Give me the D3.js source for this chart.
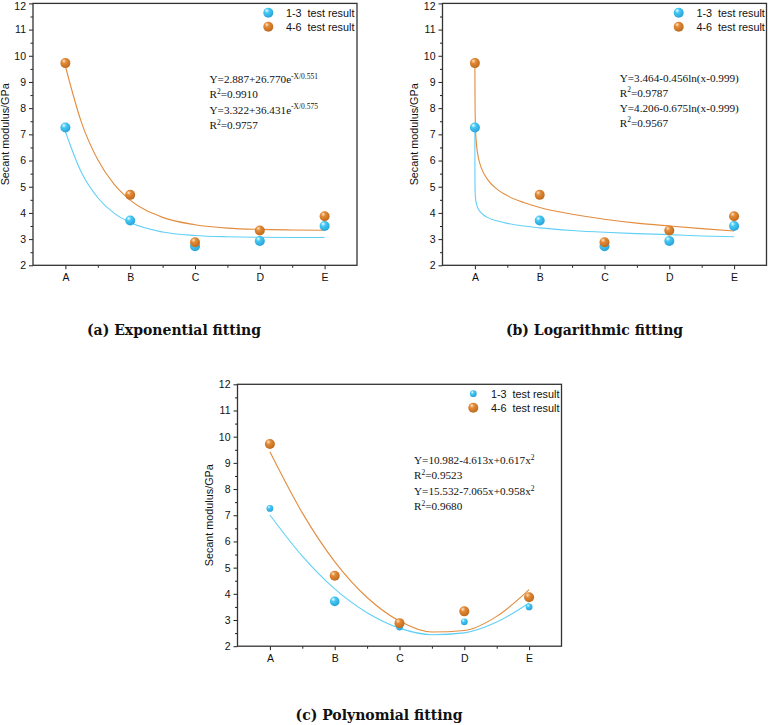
<!DOCTYPE html>
<html><head><meta charset="utf-8">
<script src="https://cdn.jsdelivr.net/npm/d3@7"></script>
<style>
body{margin:0;background:#fff;}
svg{display:block;}
</style></head><body>
<svg id="chart" width="768" height="725"></svg>
<script>
// ---------- data ----------
const categories = ["A","B","C","D","E"];
const categoryPos = [1,2,3,4,5];
const yTickValues = [2,3,4,5,6,7,8,9,10,11,12];
const yMinorValues = [2.5,3.5,4.5,5.5,6.5,7.5,8.5,9.5,10.5,11.5];
const xMinorValues = [1.5,2.5,3.5,4.5];
const seriesNames = ["1-3  test result","4-6  test result"];
const result13 = [7.26, 3.71, 2.73, 2.93, 3.50];
const result46 = [9.72, 4.69, 2.88, 3.33, 3.87];

// fitted curves
const expX = [1,1.25,1.5,1.75,2,2.5,3,3.5,4,4.5,5];
const expFit13 = [7.10,5.53,4.58,3.99,3.63,3.27,3.14,3.09,3.07,3.06,3.06];
const expFit46 = [9.60,7.44,6.03,5.10,4.49,3.83,3.55,3.42,3.37,3.35,3.34];
const logX13 = [1,1.0001,1.001,1.005,1.01,1.03,1.06,1.1,1.2,1.35,1.5,1.75,2,2.5,3,3.5,4,4.5,5];
const logFit13 = [7.25,5.68,5.12,4.73,4.56,4.29,4.12,3.99,3.82,3.69,3.60,3.50,3.43,3.33,3.26,3.21,3.17,3.12,3.09];
const logX46 = [1,1.0005,1.002,1.005,1.01,1.02,1.04,1.06,1.1,1.2,1.35,1.5,1.75,2,2.5,3,3.5,4,4.5,5];
const logFit46 = [9.72,9.15,8.25,7.65,7.2,6.75,6.30,6.04,5.71,5.26,4.89,4.66,4.40,4.21,3.95,3.76,3.61,3.50,3.40,3.31];
const polyX = [1,1.5,2,2.5,3,3.5,4,4.5,5];
const polyFit13 = [7.01,5.44,4.19,3.28,2.69,2.44,2.51,2.92,3.65];
const polyFit46 = [9.42,7.09,5.23,3.86,2.96,2.54,2.60,3.14,4.16];

const expEquations = ["Y=2.887+26.770e^{-X/0.551}","R^{2}=0.9910","Y=3.322+36.431e^{-X/0.575}","R^{2}=0.9757"];
const logEquations = ["Y=3.464-0.456ln(x-0.999)","R^{2}=0.9787","Y=4.206-0.675ln(x-0.999)","R^{2}=0.9567"];
const polyEquations = ["Y=10.982-4.613x+0.617x^{2}","R^{2}=0.9523","Y=15.532-7.065x+0.958x^{2}","R^{2}=0.9680"];
const captions = ["(a) Exponential fitting","(b) Logarithmic fitting","(c) Polynomial fitting"];
const yTitle = "Secant modulus/GPa";

// ---------- styles ----------
const BLUE_LINE = "#62d0f6", ORANGE_LINE = "#e28c3e";
const SANS = "'Liberation Sans', Arial, sans-serif";
const SERIF = "'Liberation Serif', 'Times New Roman', serif";

const svg = d3.select("#chart");
const defs = svg.append("defs");
function sphereGrad(id, hi, base, dark){
  const g = defs.append("radialGradient").attr("id", id)
    .attr("cx","40%").attr("cy","34%").attr("r","66%").attr("fx","34%").attr("fy","28%");
  g.append("stop").attr("offset","0%").attr("stop-color",hi);
  g.append("stop").attr("offset","35%").attr("stop-color",base);
  g.append("stop").attr("offset","100%").attr("stop-color",dark);
}
sphereGrad("gBlue","#f4fdff","#45c9f5","#2aa2d8");
sphereGrad("gOrange","#fde6cc","#e38a35","#bd6a1f");

function drawPanel(cfg){
  const x = d3.scaleLinear().domain([0.5,5.5]).range([cfg.x0,cfg.x1]);
  const y = d3.scaleLinear().domain([2,12]).range([cfg.yBot,cfg.yTop]);
  const g = svg.append("g");

  // axes
  const ax = g.append("g").attr("transform",`translate(${cfg.x0},0)`)
    .call(d3.axisLeft(y).tickValues(yTickValues).tickSize(4).tickPadding(3).tickFormat(d3.format("d")));
  const axm = g.append("g").attr("transform",`translate(${cfg.x0},0)`)
    .call(d3.axisLeft(y).tickValues(yMinorValues).tickSize(2.5).tickFormat(""));
  const bx = g.append("g").attr("transform",`translate(0,${cfg.yBot})`)
    .call(d3.axisBottom(x).tickValues(categoryPos).tickSize(4).tickPadding(4).tickFormat((d,i)=>categories[i]));
  const bxm = g.append("g").attr("transform",`translate(0,${cfg.yBot})`)
    .call(d3.axisBottom(x).tickValues(xMinorValues).tickSize(2.5).tickFormat(""));
  [ax,axm,bx,bxm].forEach(a=>{
    a.select(".domain").remove();
    a.selectAll("line").attr("stroke","#222").attr("stroke-width",1);
    a.selectAll("text").attr("font-family",SANS).attr("font-size","10.5px").attr("fill","#111");
  });
  // keep the top tick label inside the page
  ax.selectAll(".tick text").filter(d=>d===12 && cfg.yTop<10).attr("dy","0.6em");

  // frame
  g.append("rect").attr("x",cfg.x0).attr("y",cfg.yTop)
    .attr("width",cfg.x1-cfg.x0).attr("height",cfg.yBot-cfg.yTop)
    .attr("fill","none").attr("stroke","#333").attr("stroke-width",1.3);

  // y title
  g.append("text").attr("transform",`translate(${cfg.x0-24.5},${(cfg.yTop+cfg.yBot)/2}) rotate(-90)`)
    .attr("text-anchor","middle").attr("font-family",SANS).attr("font-size","10.8px").attr("fill","#111")
    .text(yTitle);

  // fitted curves
  const line = d3.line().x(d=>x(d[0])).y(d=>y(d[1])).curve(d3.curveMonotoneX);
  cfg.curves.forEach(c=>{
    const pts = c.xs.map((v,i)=>[v,c.ys[i]]);
    g.append("path").datum(pts).attr("d",line).attr("fill","none")
      .attr("stroke",c.color).attr("stroke-width",1.1);
  });

  // points
  const drawPts = (vals, grad, rfn) => {
    g.selectAll(null).data(vals).enter().append("circle")
      .attr("cx",(d,i)=>x(categoryPos[i])).attr("cy",d=>y(d))
      .attr("r",(d,i)=>rfn(i)).attr("fill",`url(#${grad})`);
  };
  drawPts(result13,"gBlue",cfg.r13);
  drawPts(result46,"gOrange",cfg.r46);

  // legend
  [0,1].forEach(k=>{
    g.append("circle").attr("cx",cfg.legX).attr("cy",cfg.legY+k*14)
      .attr("r",k===0?cfg.legR13:5).attr("fill",k===0?"url(#gBlue)":"url(#gOrange)");
    g.append("text").attr("x",cfg.legX+17.7).attr("y",cfg.legY+k*14+4)
      .attr("font-family",SANS).attr("font-size","10.8px").attr("fill","#111")
      .style("white-space","pre").text(seriesNames[k]);
  });

  // equations
  cfg.eqs.forEach((s,i)=>{
    const t = g.append("text").attr("x",cfg.eqX).attr("y",cfg.eqY[i])
      .attr("font-family",SERIF).attr("font-size","11.2px").attr("fill","#111");
    const parts = s.split(/(\^\{[^}]*\})/).filter(p=>p.length);
    let sup = false;
    parts.forEach(p=>{
      if(p.startsWith("^{")){
        t.append("tspan").attr("dy",-4.2).attr("font-size","7.5px").text(p.slice(2,-1));
        sup = true;
      } else {
        const ts = t.append("tspan").text(p);
        if(sup){ ts.attr("dy",4.2); sup=false; }
      }
    });
  });

  // caption
  svg.append("text").attr("x",cfg.capX).attr("y",cfg.capY).attr("text-anchor","middle")
    .attr("font-family","'DejaVu Serif', serif").attr("font-weight","bold").attr("font-size","14px")
    .attr("fill","#111").text(cfg.caption);
}

drawPanel({
  x0:33, x1:357, yTop:3.4, yBot:265.3,
  curves:[{xs:expX,ys:expFit13,color:BLUE_LINE},{xs:expX,ys:expFit46,color:ORANGE_LINE}],
  r13:()=>5, r46:()=>5, legR13:5,
  legX:268.3, legY:12.7,
  eqs:expEquations, eqX:209.5, eqY:[83,98,113.5,129],
  caption:captions[0], capX:174, capY:335
});
drawPanel({
  x0:442.5, x1:766.5, yTop:3.4, yBot:265.3,
  curves:[{xs:logX13,ys:logFit13,color:BLUE_LINE},{xs:logX46,ys:logFit46,color:ORANGE_LINE}],
  r13:()=>5, r46:()=>5, legR13:5,
  legX:678.7, legY:12.7,
  eqs:logEquations, eqX:619.7, eqY:[81.5,96.5,111.5,126.5],
  caption:captions[1], capX:594.5, capY:335
});
drawPanel({
  x0:237.5, x1:561.5, yTop:384.3, yBot:646.2,
  curves:[{xs:polyX,ys:polyFit13,color:BLUE_LINE},{xs:polyX,ys:polyFit46,color:ORANGE_LINE}],
  r13:(i)=> i===1?4.8:3.4, r46:()=>5, legR13:3.4,
  legX:473.3, legY:393.7,
  eqs:polyEquations, eqX:414, eqY:[464,479,494.7,510.3],
  caption:captions[2], capX:379, capY:720
});
</script>
</body></html>
